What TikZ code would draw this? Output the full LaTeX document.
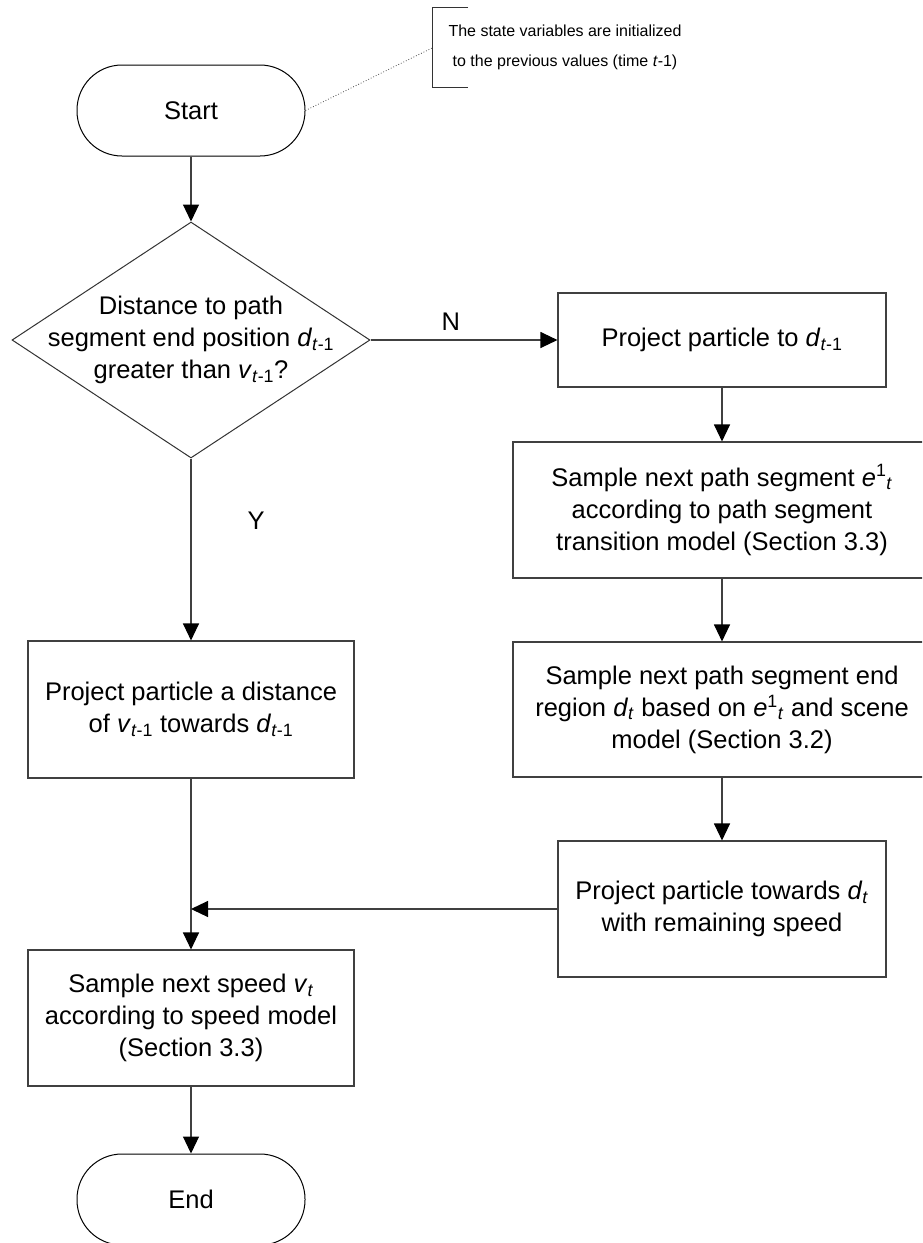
\documentclass[tikz,border=0pt]{standalone}
\usepackage{fontspec}
\setmainfont{Liberation Sans}
\usetikzlibrary{arrows.meta,shapes.geometric}
\newcommand{\mainfs}{\fontsize{25.5}{32}\selectfont}
\newcommand{\notefs}{\fontsize{16}{30}\selectfont}
\newcommand{\dtm}{\textit{d}\textsubscript{\textit{t}-1}}
\newcommand{\vtm}{\textit{v}\textsubscript{\textit{t}-1}}
\newcommand{\dtt}{\textit{d}\textsubscript{\textit{t}}}
\newcommand{\vtt}{\textit{v}\textsubscript{\textit{t}}}
\newcommand{\eot}{\textit{e}\textsuperscript{1}\textsubscript{\textit{t}}}
\tikzset{
  box/.style={draw=black!75, line width=1.1pt, rectangle, align=center, inner sep=0pt, font=\mainfs},
  term/.style={draw=black, line width=1pt, rectangle, rounded corners=45pt, minimum width=228pt, minimum height=91pt, inner sep=0pt, font=\mainfs},
  arr/.style={draw=black!75, line width=1.1pt, -{Triangle[length=17pt,width=16pt,color=black,fill=black]}},
  lbl/.style={font=\mainfs, inner sep=0pt},
}
\begin{document}
\begin{tikzpicture}[x=1pt,y=-1pt]
\useasboundingbox (0,0) rectangle (922,1243);
\clip (0,0) rectangle (922,1243);
\fill[white] (0,0) rectangle (922,1243);

% terminators
\node[term] (start) at (191,110.5) {Start};
\node[term] (end) at (191,1199.5) {End};

% annotation
\node[font=\notefs, align=center, inner sep=0pt] (anno) at (565,47) {The state variables are initialized\\to the previous values (time \textit{t}-1)};
\coordinate (annoT) at (468,7);
\coordinate (annoTL) at (432,7);
\coordinate (annoBL) at (432,87);
\coordinate (annoB) at (468,87);
\coordinate (annoL) at (432,48);
\draw[black!80, line width=1pt] (annoT) -- (annoTL) -- (annoBL) -- (annoB);
\draw[black!70, line width=0.8pt, dotted] (start.east) -- (annoL);

% decision
\node[draw=black!80, line width=1pt, diamond, minimum width=358pt, minimum height=236pt, inner sep=0pt] (dec) at (191,340) {};
\node[lbl, align=center] (dect) at (dec.center) {Distance to path\\segment end position \dtm\\greater than \vtm?};

% right column
\node[box, minimum width=328pt, minimum height=94pt] (b1) at (722,340) {Project particle to \dtm};
\node[box, minimum width=418pt, minimum height=136pt] (b2) at (722,510) {Sample next path segment \eot\\according to path segment\\transition model (Section 3.3)};
\node[box, minimum width=418pt, minimum height=135pt] (b3) at (722,709.5) {Sample next path segment end\\region \dtt{} based on \eot{} and scene\\model (Section 3.2)};
\node[box, minimum width=328pt, minimum height=136pt] (b4) at (722,909) {Project particle towards \dtt\\with remaining speed};

% left column
\node[box, minimum width=326pt, minimum height=137pt] (bl) at (191,709.5) {Project particle a distance\\of \vtm{} towards \dtm};
\node[box, minimum width=326pt, minimum height=136pt] (b5) at (191,1018) {Sample next speed \vtt\\according to speed model\\(Section 3.3)};

% connectors
\draw[arr] (start.south) -- (dec.north);
\draw[arr] (dec.east) -- (b1.west) node[lbl, pos=0.43, above=9pt] (nlab) {N};
\draw[arr] (dec.south) -- (bl.north) node[lbl, pos=0.34, right=56pt] (ylab) {Y};
\draw[arr] (b1.south) -- (b2.north);
\draw[arr] (b2.south) -- (b3.north);
\draw[arr] (b3.south) -- (b4.north);
\draw[arr] (bl.south) -- (b5.north);
\draw[arr] (b4.west) -- (bl.south |- b4.west);
\draw[arr] (b5.south) -- (end.north);
\end{tikzpicture}
\end{document}
